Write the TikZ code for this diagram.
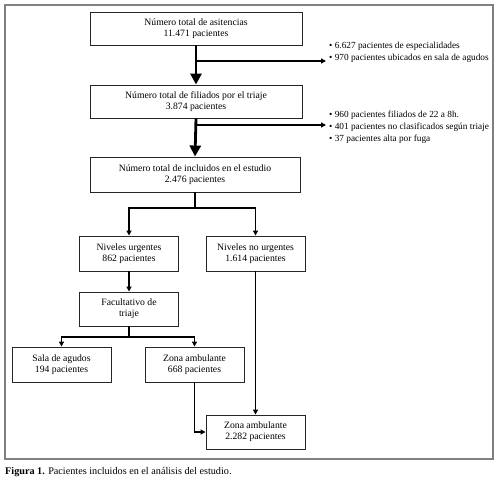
\documentclass[tikz,border=0pt]{standalone}
\usepackage{fontspec}
\setmainfont{Liberation Serif}
\usetikzlibrary{arrows.meta}
\begin{document}
\begin{tikzpicture}[x=1pt,y=-1pt,
  box/.style={draw=black!85,line width=0.9pt,rectangle,align=center,inner sep=0pt,
    font=\fontsize{9.7}{11.2}\selectfont},
  thick arrow/.style={line width=2.8pt,-{Triangle[length=11pt,width=11pt]}},
  conn/.style={line width=1.4pt,-{Triangle[length=5pt,width=5pt]}},
  plain/.style={line width=1.4pt},
  list/.style={align=left,anchor=north west,inner sep=0pt,font=\fontsize{9.3}{12}\selectfont}]
\useasboundingbox (0,0) rectangle (497,480);
\draw[black!50,line width=1.2pt] (5,5) rectangle (493,459);
\node[box,minimum width=212pt,minimum height=33pt] (b1) at (196,28.5) {Número total de asitencias\\11.471 pacientes};
\node[box,minimum width=212pt,minimum height=33pt] (b2) at (196,101.5) {Número total de filiados por el triaje\\3.874 pacientes};
\node[box,minimum width=210pt,minimum height=35pt] (b3) at (195,174.5) {Número total de incluidos en el estudio\\2.476 pacientes};
\node[box,minimum width=99pt,minimum height=35pt] (nu) at (129,253.5) {Niveles urgentes\\862 pacientes};
\node[box,minimum width=99pt,minimum height=35pt] (nnu) at (255.5,253.5) {Niveles no urgentes\\1.614 pacientes};
\node[box,minimum width=99pt,minimum height=34pt] (fac) at (129,309) {Facultativo de\\triaje};
\node[box,minimum width=99pt,minimum height=35pt] (sala) at (61.5,364.5) {Sala de agudos\\194 pacientes};
\node[box,minimum width=99pt,minimum height=35pt] (za1) at (194.5,364.5) {Zona ambulante\\668 pacientes};
\node[box,minimum width=99pt,minimum height=34pt] (za2) at (255.5,432) {Zona ambulante\\2.282 pacientes};
\node[list] (l1) at (329,42) {\textbullet\ 6.627 pacientes de especialidades\\\textbullet\ 970 pacientes ubicados en sala de agudos};
\node[list] (l2) at (329,111) {\textbullet\ 960 pacientes filiados de 22 a 8h.\\\textbullet\ 401 pacientes no clasificados según triaje\\\textbullet\ 37 pacientes alta por fuga};
\node[anchor=west,inner sep=0pt,font=\fontsize{10.2}{12}\selectfont] (cap) at (5,472) {\textbf{Figura 1.} Pacientes incluidos en el análisis del estudio.};
% main flow
\draw[thick arrow] (b1.south) -- (b2.north);
\draw[thick arrow] (b2.south) -- (b3.north);
\coordinate (s1) at (196,61);
\coordinate (e1) at (326,61);
\coordinate (s2) at (196,125);
\coordinate (e2) at (326,125);
\draw[conn] (s1) -- (e1);
\draw[conn] (s2) -- (e2);
\coordinate (j1) at (195,208);
\draw[plain] (b3.south) -- (j1);
\draw[conn] (j1) -| (nu.north);
\draw[conn] (j1) -| (nnu.north);
\draw[conn] (nu.south) -- (fac.north);
\coordinate (j2) at (129,337);
\draw[plain] (fac.south) -- (j2);
\draw[conn] (j2) -| (sala.north);
\draw[conn] (j2) -| (za1.north);
\draw[conn] (za1.south) |- (za2.west);
\draw[conn] (nnu.south) -- (za2.north);
\end{tikzpicture}
\end{document}
